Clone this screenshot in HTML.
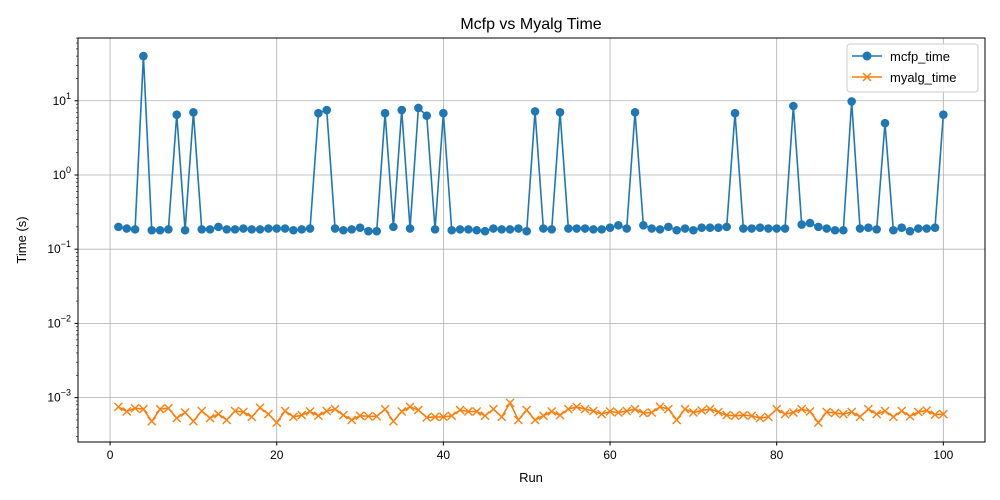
<!DOCTYPE html>
<html><head><meta charset="utf-8">
<style>
html,body{margin:0;padding:0;background:#fff;}
svg{display:block;font-family:"Liberation Sans","DejaVu Sans",sans-serif;}
</style></head>
<body>
<svg id="chart" width="1000" height="500" viewBox="0 0 1000 500" xmlns="http://www.w3.org/2000/svg">
<rect x="0" y="0" width="1000" height="500" fill="#fff"/>
<text x="531" y="29" font-size="16" text-anchor="middle" fill="#000">Mcfp vs Myalg Time</text>
<g id="grid"></g>
<g id="series"></g>
<rect x="78" y="38" width="907" height="404" fill="none" stroke="#000" stroke-width="1"/>
<g id="axes"></g>
<text x="531" y="482" font-size="13" text-anchor="middle">Run</text>
<text x="26" y="240" font-size="13" text-anchor="middle" transform="rotate(-90 26 240)">Time (s)</text>
<g>
<rect x="847" y="44" width="131" height="48" rx="3" fill="#fff" fill-opacity="0.8" stroke="#ccc"/>
<g>
<line x1="852" y1="56" x2="882" y2="56" stroke="#1f77b4" stroke-width="1.5"/>
<circle cx="867" cy="56" r="4.5" fill="#1f77b4"/>
<text x="890" y="61" font-size="13">mcfp_time</text></g>
<g>
<line x1="852" y1="77" x2="882" y2="77" stroke="#ff7f0e" stroke-width="1.5"/>
<path d="M863,73 l8,8 M871,73 l-8,8" stroke="#ff7f0e" stroke-width="1.5"/>
<text x="890" y="82" font-size="13">myalg_time</text></g>
</g>
</svg>
<script>
const runs = Array.from({length:100},(_,i)=>i+1);
const mcfpTime = [
0.20,0.19,0.185,40,0.18,0.18,0.185,6.5,0.18,7,
0.185,0.185,0.20,0.185,0.185,0.19,0.185,0.185,0.19,0.19,
0.19,0.18,0.185,0.19,6.8,7.5,0.19,0.18,0.185,0.195,
0.175,0.175,6.8,0.20,7.5,0.19,8,6.3,0.185,6.8,
0.18,0.185,0.185,0.18,0.175,0.19,0.185,0.185,0.19,0.175,
7.2,0.19,0.185,7,0.19,0.19,0.19,0.185,0.185,0.195,
0.21,0.19,7,0.21,0.19,0.185,0.20,0.18,0.19,0.18,
0.195,0.195,0.195,0.20,6.8,0.19,0.19,0.195,0.19,0.19,
0.19,8.5,0.215,0.225,0.20,0.19,0.18,0.18,9.8,0.19,
0.195,0.185,5,0.18,0.195,0.175,0.19,0.19,0.195,6.5];
const myalgTime = [
7.5,6.5,7.2,7,4.8,7,7.2,5.3,6.3,4.8,
6.6,5.3,6,5,6.6,6.4,5.5,7.3,6,4.6,
6.6,5.5,5.8,6.5,5.7,6.6,7,5.8,5,5.7,
5.6,5.6,7,4.8,6.5,7.5,6.8,5.4,5.5,5.5,
5.7,6.8,6.5,6.5,5.7,7,5.5,8.5,5,6.8,
5,5.7,6.5,5.8,7,7.5,7,6.6,6,6.5,
6.3,6.6,7,6.2,6.3,7.5,7,5,7,6.3,
6.7,7,6.4,5.8,5.7,5.8,5.7,5.3,5.5,7,
6,6.3,7,6.5,4.6,6.4,6.2,6,6.4,5.5,
7,6,6.6,5.5,6.6,5.6,6.4,6.7,5.9,6].map(v=>v*1e-4);
const xTicks = [0,20,40,60,80,100];
const yTickExps = [-3,-2,-1,0,1];

const NS="http://www.w3.org/2000/svg";
const L=78,R=985,T=38,B=442;
const xMin=-3.85,xMax=105.0,lMin=-3.598,lMax=1.846;
const xs=v=>L+(v-xMin)/(xMax-xMin)*(R-L);
const ys=v=>B-(Math.log10(v)-lMin)/(lMax-lMin)*(B-T);
function mk(tag,attrs,parent){const e=document.createElementNS(NS,tag);for(const k in attrs)e.setAttribute(k,attrs[k]);parent.appendChild(e);return e;}
const grid=document.getElementById('grid'),axes=document.getElementById('axes'),ser=document.getElementById('series');
xTicks.forEach(t=>{const x=xs(t);
 const g=mk('line',{x1:x,x2:x,y1:T,y2:B,stroke:'#b0b0b0','stroke-width':0.8},grid);
 
 
 mk('line',{x1:x,x2:x,y1:B,y2:B+3.5,stroke:'#000'},axes);
 const tx=mk('text',{x:x,y:B+17,'font-size':12,'text-anchor':'middle'},axes);tx.textContent=t;
 
 
});
yTickExps.forEach(e=>{const y=ys(Math.pow(10,e));
 const g=mk('line',{x1:L,x2:R,y1:y,y2:y,stroke:'#b0b0b0','stroke-width':0.8},grid);
 
 
 mk('line',{x1:L-3.5,x2:L,y1:y,y2:y,stroke:'#000'},axes);
 const tx=mk('text',{x:L-7,y:y+4,'font-size':12,'text-anchor':'end'},axes);
 
 
 const a=document.createElementNS(NS,'tspan');a.textContent='10';tx.appendChild(a);
 const s=document.createElementNS(NS,'tspan');s.setAttribute('dy','-6');s.setAttribute('font-size','9');s.textContent=(e<0?'\u2212':'')+Math.abs(e);
 tx.insertBefore(a,null);tx.appendChild(s);
 tx.setAttribute('x',L-7+0);
});
// minor ticks
for(let e=-4;e<=1;e++)for(let m=2;m<=9;m++){const v=m*Math.pow(10,e);const l=Math.log10(v);if(l<lMin||l>lMax)continue;const y=ys(v);mk('line',{x1:L-2,x2:L,y1:y,y2:y,stroke:'#000','stroke-width':0.6},axes);}
function drawSeries(vals,color,name,marker){
 const pts=runs.map((r,i)=>xs(r).toFixed(2)+','+ys(vals[i]).toFixed(2)).join(' ');
 const pl=mk('polyline',{points:pts,fill:'none',stroke:color,'stroke-width':1.6},ser);
 
 
 runs.forEach((r,i)=>{const x=xs(r),y=ys(vals[i]);let m;
  if(marker==='o'){m=mk('circle',{cx:x,cy:y,r:4.3,fill:color},ser);}
  else{m=mk('path',{d:`M${x-4},${y-4}L${x+4},${y+4}M${x+4},${y-4}L${x-4},${y+4}`,stroke:color,'stroke-width':1.4,fill:'none'},ser);}
  
  
 });
}
drawSeries(mcfpTime,'#1f77b4','mcfp','o');
drawSeries(myalgTime,'#ff7f0e','myalg','x');
</script>
</body></html>
